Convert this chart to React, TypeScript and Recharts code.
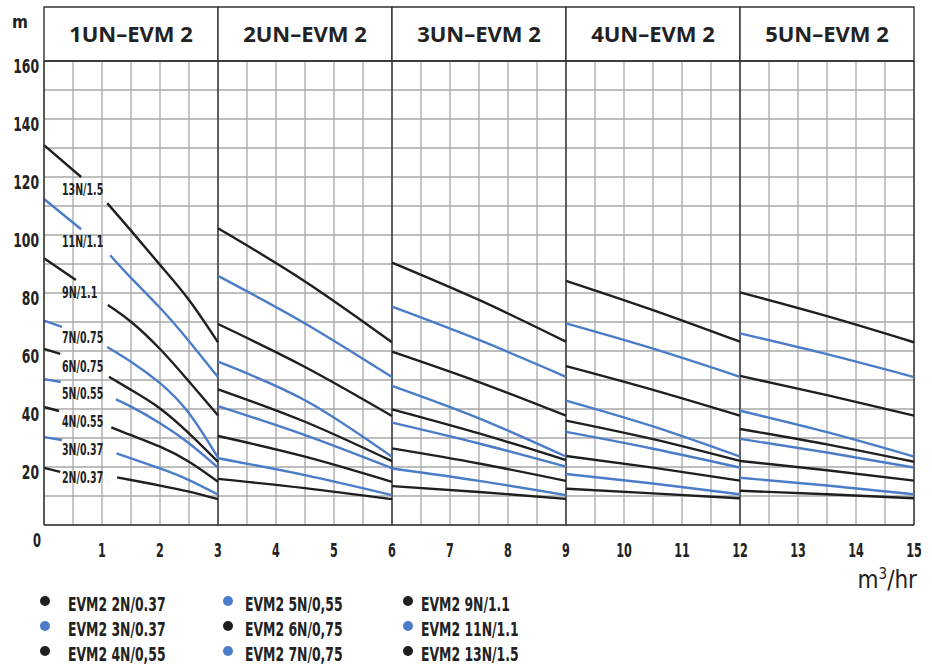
import { CartesianGrid, Line, LineChart, ReferenceArea, ReferenceDot, ReferenceLine, XAxis, YAxis } from "recharts";

type Seg = number[][];

// flow (m3/hr) / head (m) points, one segment per pump group
const curve2N: Seg[] = [
  [[0, 19.7], [0.28, 18.3]],
  [[1.26, 16.4], [1.5, 15.5], [2, 13.6], [2.5, 11.5], [3, 8.9]],
  [[3, 15.9], [4.5, 12.7], [6, 8.9]],
  [[6, 13.4], [7.5, 11.4], [9, 9.0]],
  [[9, 12.5], [10.5, 10.9], [12, 9.2]],
  [[12, 11.8], [13.5, 10.6], [15, 9.2]],
];
const curve3N: Seg[] = [
  [[0, 30.3], [0.31, 29.3]],
  [[1.25, 24.7], [1.5, 23.0], [2, 19.5], [2.5, 15.5], [3, 10.5]],
  [[3, 23.0], [4.5, 17.2], [6, 10.3]],
  [[6, 19.5], [7.5, 15.2], [9, 10.3]],
  [[9, 17.6], [10.5, 14.3], [12, 10.6]],
  [[12, 16.3], [13.5, 13.6], [15, 10.6]],
];
const curve4N: Seg[] = [
  [[0, 40.7], [0.26, 39.3]],
  [[1.16, 33.7], [1.5, 31.0], [2, 27.0], [2.5, 21.8], [3, 14.9]],
  [[3, 30.7], [4.5, 23.6], [6, 14.9]],
  [[6, 26.4], [7.5, 21.2], [9, 15.2]],
  [[9, 23.8], [10.5, 19.8], [12, 15.3]],
  [[12, 22.1], [13.5, 18.9], [15, 15.3]],
];
const curve5N: Seg[] = [
  [[0, 50.3], [0.29, 49.3]],
  [[1.24, 43.3], [1.5, 40.8], [2, 35.1], [2.5, 28.2], [3, 19.8]],
  [[3, 41.0], [4.5, 31.0], [6, 19.6]],
  [[6, 35.3], [7.5, 28.1], [9, 20.1]],
  [[9, 32.1], [10.5, 26.3], [12, 19.8]],
  [[12, 29.7], [13.5, 25.0], [15, 19.8]],
];
const curve6N: Seg[] = [
  [[0, 60.7], [0.28, 59.0]],
  [[1.12, 51.1], [1.5, 46.6], [2, 40.2], [2.5, 31.6], [3, 21.8]],
  [[3, 46.8], [4.5, 35.6], [6, 22.0]],
  [[6, 39.9], [7.5, 31.6], [9, 22.4]],
  [[9, 36.0], [10.5, 29.6], [12, 22.1]],
  [[12, 33.1], [13.5, 27.8], [15, 21.8]],
];
const curve7N: Seg[] = [
  [[0, 70.5], [0.31, 68.3]],
  [[1.09, 61.4], [1.5, 56.3], [2, 48.9], [2.5, 38.5], [3, 23.2]],
  [[3, 56.3], [4.5, 43.0], [6, 23.5]],
  [[6, 48.0], [7.5, 36.8], [9, 23.6]],
  [[9, 42.9], [10.5, 34.0], [12, 23.6]],
  [[12, 39.4], [13.5, 32.0], [15, 23.6]],
];
const curve9N: Seg[] = [
  [[0, 92.0], [0.55, 84.5]],
  [[1.1, 75.9], [1.5, 70.1], [2, 60.7], [2.5, 49.5], [3, 37.8]],
  [[3, 69.3], [4.5, 54.5], [6, 37.6]],
  [[6, 59.8], [7.5, 49.3], [9, 37.7]],
  [[9, 54.8], [10.5, 46.6], [12, 37.7]],
  [[12, 51.4], [13.5, 44.8], [15, 37.7]],
];
const curve11N: Seg[] = [
  [[0, 112.4], [0.64, 102.0]],
  [[1.14, 93.0], [1.5, 85.2], [2, 74.9], [2.5, 63.4], [3, 51.0]],
  [[3, 85.9], [4.5, 69.5], [6, 51.0]],
  [[6, 75.3], [7.5, 63.8], [9, 51.1]],
  [[9, 69.5], [10.5, 60.8], [12, 51.1]],
  [[12, 66.1], [13.5, 58.9], [15, 51.0]],
];
const curve13N: Seg[] = [
  [[0, 131.0], [0.64, 120.0]],
  [[1.09, 111.0], [1.5, 101.5], [2, 89.7], [2.5, 77.6], [3, 63.0]],
  [[3, 102.3], [4.5, 84.0], [6, 63.0]],
  [[6, 90.5], [7.5, 77.6], [9, 63.2]],
  [[9, 84.2], [10.5, 74.1], [12, 63.2]],
  [[12, 80.2], [13.5, 72.0], [15, 63.0]],
];

const curveTags = ["2N/0.37", "3N/0.37", "4N/0.55", "5N/0.55", "6N/0.75", "7N/0.75", "9N/1.1", "11N/1.1", "13N/1.5"];
const legendNames = [
  "EVM2 2N/0.37", "EVM2 3N/0.37", "EVM2 4N/0,55",
  "EVM2 5N/0,55", "EVM2 6N/0,75", "EVM2 7N/0,75",
  "EVM2 9N/1.1", "EVM2 11N/1.1", "EVM2 13N/1.5",
];
const tagHeads = [16.7, 26.2, 35.9, 45.5, 54.8, 64.7, 80.2, 97.8, 115.9];
const tagFlow = 0.31;
const groupTitles = ["1UN–EVM 2", "2UN–EVM 2", "3UN–EVM 2", "4UN–EVM 2", "5UN–EVM 2"];
const xTicks = Array.from({ length: 31 }, (_, i) => i * 0.5);
const yTicks = Array.from({ length: 17 }, (_, i) => i * 10);

const curves = [curve2N, curve3N, curve4N, curve5N, curve6N, curve7N, curve9N, curve11N, curve13N];

const BLACK = "#1f1f1f";
const BLUE = "#4a7cc8";
const colorOf = (i: number) => (i % 2 === 0 ? BLACK : BLUE);
const NARROW = '"Liberation Sans Narrow", "DejaVu Sans Condensed", "Arial Narrow", "Liberation Sans", sans-serif';

const toRows = (segs: Seg[]) =>
  segs.flatMap((seg, i) => [
    ...(i > 0 ? [{ q: seg[0][0], h: null as number | null }] : []),
    ...seg.map(([q, h]) => ({ q, h: h as number | null })),
  ]);

// squeezed bold text, the source face is a condensed one
const Narrow = ({ x, y, size, per, anchor = "start", children }: any) => (
  <text
    x={x}
    y={y}
    textAnchor={anchor}
    fontFamily={NARROW}
    fontWeight={700}
    fontSize={size}
    fill="#222"
    textLength={String(children).length * per}
    lengthAdjust="spacingAndGlyphs"
  >
    {children}
  </text>
);

const XTick = ({ x, y, payload }: any) => {
  const v = payload.value;
  if (v === 0) return <Narrow x={x - 7} y={y + 22} size={19} per={8} anchor="middle">0</Narrow>;
  if (!Number.isInteger(v)) return <g />;
  return <Narrow x={x} y={y + 32} size={19} per={7.8} anchor="middle">{String(v)}</Narrow>;
};

const YTick = ({ x, y, payload }: any) => {
  const v = payload.value;
  if (v === 0 || v % 20 !== 0) return <g />;
  return <Narrow x={x - 5} y={y + 12} size={19} per={8.6} anchor="end">{String(v)}</Narrow>;
};

export default function App() {
  return (
    <div style={{ position: "absolute", left: 0, top: 0, width: 932, height: 666, background: "#fff", overflow: "hidden" }}>
      <LineChart width={932} height={666} margin={{ top: 61, right: 18, left: 0, bottom: 111 }}>
        <CartesianGrid stroke="#a8a8a8" strokeWidth={1.3} />
        <XAxis
          type="number"
          dataKey="q"
          domain={[0, 15]}
          ticks={xTicks}
          interval={0}
          height={30}
          tickSize={0}
          tickMargin={0}
          tick={<XTick />}
          axisLine={{ stroke: "#333", strokeWidth: 1.5 }}
          label={{
            content: ({ viewBox }: any) => (
              <text x={viewBox.x + viewBox.width + 3} y={viewBox.y + 63} textAnchor="end" fontFamily={NARROW} fontSize={24} fill="#222">
                m<tspan dy={-9} fontSize={15}>3</tspan>
                <tspan dy={9}>/hr</tspan>
              </text>
            ),
          }}
        />
        <YAxis
          type="number"
          domain={[0, 160]}
          ticks={yTicks}
          interval={0}
          width={44}
          tickSize={0}
          tickMargin={0}
          tick={<YTick />}
          axisLine={{ stroke: "#333", strokeWidth: 1.5 }}
          label={{
            content: ({ viewBox }: any) => (
              <text x={20} y={viewBox.y - 33} textAnchor="middle" fontFamily={NARROW} fontWeight={700} fontSize={17} fill="#222">
                m
              </text>
            ),
          }}
        />
        {groupTitles.map((title, i) => (
          <ReferenceArea
            key={title}
            x1={i * 3}
            x2={i * 3 + 3}
            y1={160}
            y2={178.6}
            ifOverflow="visible"
            fill="#fff"
            fillOpacity={1}
            stroke="#333"
            strokeWidth={1.4}
            label={{ value: title, position: "center", fontFamily: '"Open Sans", sans-serif', fontWeight: 700, fontSize: 22, fill: "#222" }}
          />
        ))}
        {[3, 6, 9, 12, 15].map((q) => (
          <ReferenceLine key={q} x={q} stroke="#333" strokeWidth={1.4} />
        ))}
        <ReferenceLine y={160} stroke="#333" strokeWidth={1.4} />
        {curves.map((segs, i) => (
          <Line
            key={curveTags[i]}
            data={toRows(segs)}
            dataKey="h"
            type="natural"
            stroke={colorOf(i)}
            strokeWidth={2.4}
            dot={false}
            connectNulls={false}
            isAnimationActive={false}
          />
        ))}
        {curveTags.map((tag, i) => (
          <ReferenceDot
            key={tag}
            x={tagFlow}
            y={tagHeads[i]}
            r={0}
            shape={(p: any) => (
              <Narrow x={p.cx} y={p.cy + 6} size={16} per={5.9}>
                {tag}
              </Narrow>
            )}
          />
        ))}
      </LineChart>
      <div
        style={{
          position: "absolute",
          left: 40,
          top: 591,
          display: "grid",
          gridTemplateColumns: "183px 180px 180px",
          gridAutoFlow: "column",
          gridTemplateRows: "repeat(3, 25px)",
          fontFamily: NARROW,
          fontWeight: 700,
          fontSize: 20,
          lineHeight: "20px",
          color: "#222",
        }}
      >
        {legendNames.map((name, i) => (
          <div key={name} style={{ display: "flex", alignItems: "center", whiteSpace: "nowrap" }}>
            <span
              style={{
                width: 10,
                height: 10,
                borderRadius: 5,
                background: colorOf(i),
                marginRight: [18, 12, 8][Math.floor(i / 3)],
                position: "relative",
                top: -3,
                display: "inline-block",
                flex: "none",
              }}
            />
            <span style={{ display: "inline-block", transform: "scaleX(0.69)", transformOrigin: "left center" }}>{name}</span>
          </div>
        ))}
      </div>
    </div>
  );
}
